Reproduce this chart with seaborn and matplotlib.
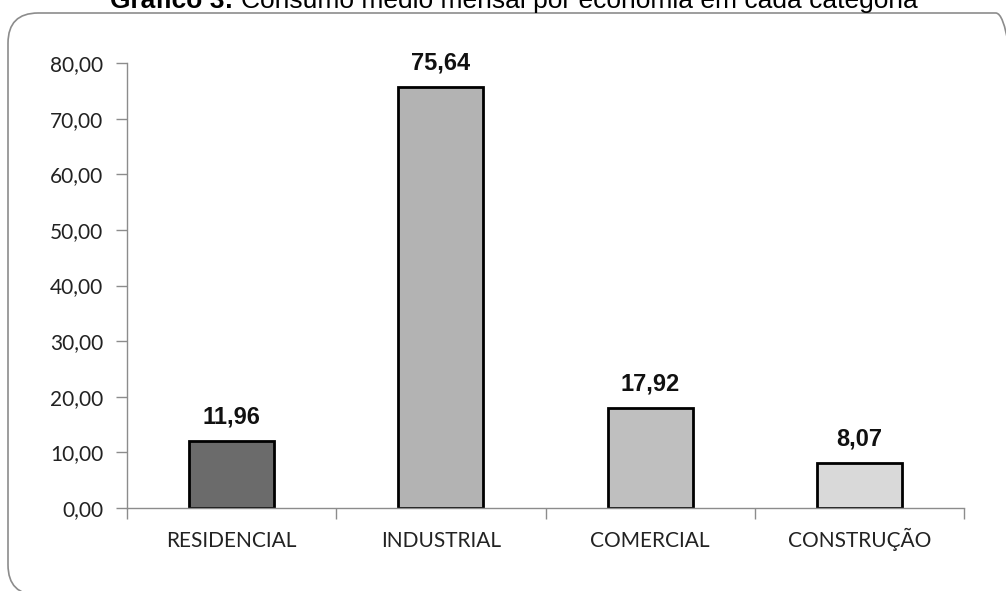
import matplotlib
matplotlib.use("Agg")
import matplotlib.pyplot as plt
from matplotlib.patches import FancyBboxPatch
from matplotlib.ticker import FixedLocator
import seaborn as sns
import pandas as pd

categories = ["RESIDENCIAL", "INDUSTRIAL", "COMERCIAL", "CONSTRUÇÃO"]
values = [11.96, 75.64, 17.92, 8.07]
labels = ["11,96", "75,64", "17,92", "8,07"]
colors = ["#6b6b6b", "#b3b3b3", "#bfbfbf", "#d9d9d9"]
yticks = [0, 10, 20, 30, 40, 50, 60, 70, 80]
ytick_labels = ["0,00", "10,00", "20,00", "30,00", "40,00", "50,00", "60,00", "70,00", "80,00"]
title_bold = "Gráfico 3: "
title_rest = "Consumo médio mensal por economia em cada categoria"

sns.set_style("white")
plt.rcParams["font.family"] = ["Lato", "DejaVu Sans"]

df = pd.DataFrame({"cat": categories, "val": values})

fig = plt.figure(figsize=(10.06, 5.91), dpi=100)
ax = fig.add_axes([0.1262, 0.1404, 0.8321, 0.7530])

sns.barplot(data=df, x="cat", y="val", hue="cat", palette=colors, dodge=False,
            width=0.405, edgecolor="black", linewidth=2, legend=False, ax=ax)

ax.set_xlim(-0.5, 3.5)
ax.set_ylim(0, 80)
ax.set_yticks(yticks)
ax.set_yticklabels(ytick_labels, fontsize=15, color="#222222")
ax.set_xticks(range(len(categories)))
ax.set_xticklabels(categories, fontsize=15, color="#222222")
for lab in ax.get_xticklabels():
    lab.set_va("baseline")
ax.xaxis.set_minor_locator(FixedLocator([-0.5, 0.5, 1.5, 2.5, 3.5]))
ax.tick_params(axis="x", which="major", length=0, pad=28)
ax.tick_params(axis="x", which="minor", length=8, color="#8c8c8c", width=1, direction="out", bottom=True)
ax.tick_params(axis="y", length=8, color="#8c8c8c", width=1, direction="out", left=True, pad=9)
ax.set_xlabel("")
ax.set_ylabel("")
for side in ["top", "right"]:
    ax.spines[side].set_visible(False)
for side in ["left", "bottom"]:
    ax.spines[side].set_color("#8c8c8c")
    ax.spines[side].set_linewidth(1)

for i, (v, lab) in enumerate(zip(values, labels)):
    ax.annotate(lab, (i, v), xytext=(0, 9), textcoords="offset points",
                ha="center", va="bottom", fontsize=17, fontweight="bold",
                family="Liberation Sans", color="#111111")

# rounded frame (right and bottom edges run off the image)
frame = FancyBboxPatch((8 / 1006, -4 / 591), 1018 / 1006, 582 / 591,
                       boxstyle="round,pad=0,rounding_size=0.03",
                       transform=fig.transFigure, facecolor="none",
                       edgecolor="#8c8c8c", linewidth=1.2, mutation_aspect=1006 / 591)
fig.patches.append(frame)

# title (partly cut at top)
ty = 1 - 8 / 591
t1 = fig.text(0, ty, title_bold, ha="left", va="baseline", fontsize=19,
              family="Liberation Sans", fontweight="bold", color="black")
t2 = fig.text(0, ty, title_rest, ha="left", va="baseline", fontsize=19,
              family="Liberation Sans", color="black")
fig.canvas.draw()
r = fig.canvas.get_renderer()
w1 = t1.get_window_extent(r).width
w2 = t2.get_window_extent(r).width
x0 = 514 - (w1 + w2) / 2
t1.set_x(x0 / 1006)
t2.set_x((x0 + w1) / 1006)

fig.savefig("out.png", dpi=100)
